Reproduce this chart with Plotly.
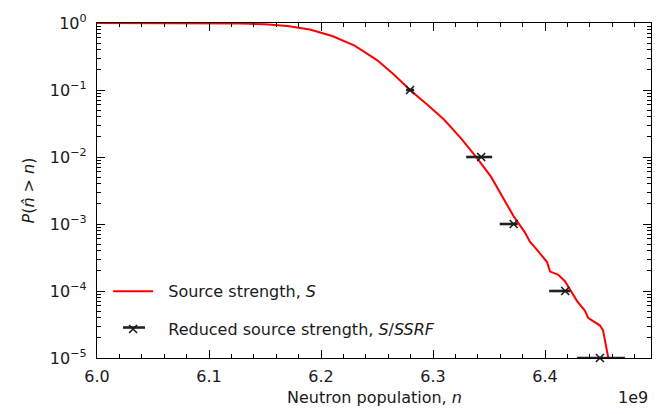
import plotly.graph_objects as go

# Exceedance probability of the neutron population (x in units of 1e9)
curve_n = [6.000, 6.050, 6.100, 6.130, 6.150, 6.170, 6.190, 6.210, 6.230, 6.250,
           6.265, 6.280, 6.295, 6.310, 6.325, 6.340, 6.352, 6.362, 6.372, 6.382,
           6.3866, 6.3929, 6.4018, 6.4045, 6.4116, 6.4179, 6.4223, 6.4286, 6.4357,
           6.4384, 6.4491, 6.4518, 6.4563, 6.458]
curve_p = [1.0, 1.0, 0.995, 0.98, 0.955, 0.90, 0.80, 0.64, 0.46, 0.28,
           0.17, 0.098, 0.060, 0.036, 0.019, 0.0093, 0.0050, 0.0026, 0.0013, 0.00075,
           0.00054, 0.00041, 0.00027, 0.000195, 0.000176, 0.000139, 0.000106, 7.08e-05, 5.06e-05,
           3.99e-05, 3.05e-05, 2.58e-05, 1.04e-05, 8.0e-06]

# Reduced source strength estimates with asymmetric uncertainty
ssrf_n = [6.2795, 6.343, 6.372, 6.418, 6.449]
ssrf_p = [1e-1, 1e-2, 1e-3, 1e-4, 1e-5]
ssrf_err_plus = [0.0036, 0.0098, 0.0036, 0.0045, 0.0223]
ssrf_err_minus = [0.0036, 0.0134, 0.0125, 0.0143, 0.0205]

x_tickvals = [6.0, 6.1, 6.2, 6.3, 6.4]
x_ticktext = ["6.0", "6.1", "6.2", "6.3", "6.4"]
y_tickvals = [1, 1e-1, 1e-2, 1e-3, 1e-4, 1e-5]
y_ticktext = ["10<sup>0</sup>", "10<sup>−1</sup>", "10<sup>−2</sup>", "10<sup>−3</sup>",
              "10<sup>−4</sup>", "10<sup>−5</sup>"]

FONT = "DejaVu Sans"
INK = "#1a1a1a"

fig = go.Figure()
fig.add_trace(go.Scatter(
    x=curve_n, y=curve_p, mode="lines",
    line=dict(color="#ff0000", width=2),
    name="&nbsp;&nbsp;Source strength, <i>S</i>",
    legendgroup="source",
))
fig.add_trace(go.Scatter(
    x=ssrf_n, y=ssrf_p, mode="markers",
    marker=dict(symbol="x-thin", size=8, color=INK, line=dict(color=INK, width=1.6)),
    error_x=dict(type="data", symmetric=False, array=ssrf_err_plus,
                 arrayminus=ssrf_err_minus, color="#222222", thickness=2.6, width=0),
    cliponaxis=False,
    name="&nbsp;&nbsp;Reduced source strength, <i>S</i>/<i>SSRF</i>",
    legendgroup="reduced",
))

axis_common = dict(
    showline=True, linecolor="black", linewidth=1.3, mirror="allticks",
    ticks="inside", tickcolor="black", tickwidth=1, ticklen=8,
    showgrid=False, zeroline=False,
    tickfont=dict(family=FONT, size=16, color=INK),
)

fig.update_xaxes(
    range=[6.0, 6.4946], tickvals=x_tickvals, ticktext=x_ticktext,
    minor=dict(dtick=0.02, tick0=6.0, ticks="inside", ticklen=4, tickcolor="black", tickwidth=1),
    ticklabelstandoff=4,
    **axis_common,
)
fig.update_yaxes(
    type="log", range=[-5, 0], tickvals=y_tickvals, ticktext=y_ticktext,
    minor=dict(dtick="D1", ticks="inside", ticklen=4, tickcolor="black", tickwidth=1),
    ticklabelstandoff=6,
    **axis_common,
)

# Horizontal error-bar glyph next to the legend's cross marker
legend_bar = dict(type="line", xref="paper", yref="paper",
                  x0=0.047, x1=0.0866, y0=0.091, y1=0.091,
                  line=dict(color="#222222", width=2.6), layer="above")

fig.update_layout(
    width=667, height=414,
    margin=dict(l=97, r=16, t=17, b=56),
    paper_bgcolor="white", plot_bgcolor="white",
    font=dict(family=FONT, size=16, color=INK),
    showlegend=True,
    legend=dict(x=0.02, y=0.035, xanchor="left", yanchor="bottom",
                bgcolor="rgba(0,0,0,0)", borderwidth=0,
                font=dict(family=FONT, size=16, color=INK),
                itemwidth=40, tracegroupgap=14),
    shapes=[legend_bar],
    annotations=[
        dict(text="Neutron population, <i>n</i>", xref="paper", yref="paper",
             x=0.5, y=-0.117, xanchor="center", yanchor="middle", showarrow=False,
             font=dict(family=FONT, size=16, color=INK)),
        dict(text="1e9", xref="paper", yref="paper",
             x=0.9675, y=-0.117, xanchor="center", yanchor="middle", showarrow=False,
             font=dict(family=FONT, size=16, color=INK)),
        dict(text="<i>P</i>(<i>n̂</i> > <i>n</i>)", xref="paper", yref="paper",
             x=-0.1245, y=0.5, xanchor="center", yanchor="middle", showarrow=False,
             textangle=-90, font=dict(family=FONT, size=16, color=INK)),
    ],
)

fig.write_html("out.html")
